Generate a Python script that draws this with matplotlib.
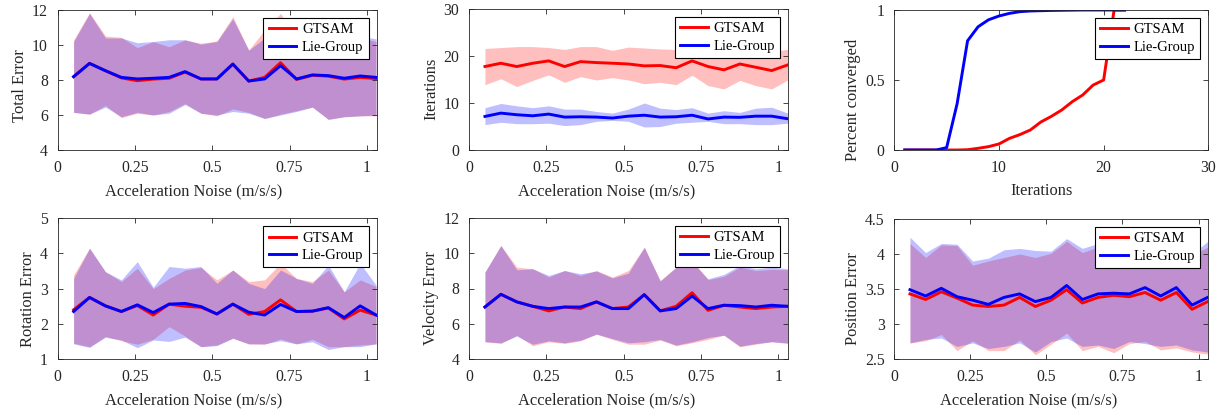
from __future__ import annotations

import matplotlib

matplotlib.use("Agg")
import matplotlib.pyplot as plt
from matplotlib.ticker import FuncFormatter

# acceleration noise levels (m/s/s)
noise = [0.0515, 0.103, 0.1545, 0.206, 0.2575, 0.309, 0.3605, 0.412, 0.4635, 0.515,
         0.5665, 0.618, 0.6695, 0.721, 0.7725, 0.824, 0.8755, 0.927, 0.9785, 1.03]

# total error
total_gtsam = [8.19, 8.95, 8.53, 8.12, 7.96, 8.05, 8.10, 8.45, 8.06, 8.06,
               8.91, 7.94, 8.15, 8.99, 8.03, 8.27, 8.22, 8.05, 8.15, 8.08]
total_gtsam_hi = [10.29, 11.85, 10.51, 10.44, 9.85, 10.19, 9.90, 10.29, 10.10, 10.23,
                  11.62, 9.71, 10.86, 11.81, 10.30, 10.45, 10.40, 10.50, 10.40, 10.20]
total_gtsam_lo = [6.15, 6.05, 6.55, 5.85, 6.10, 6.00, 6.20, 6.65, 6.10, 5.95,
                  6.35, 6.15, 5.80, 6.05, 6.25, 6.45, 5.75, 5.90, 5.95, 5.95]
total_lie = [8.19, 8.95, 8.53, 8.15, 8.06, 8.10, 8.15, 8.48, 8.06, 8.06,
             8.91, 7.94, 8.06, 8.82, 8.06, 8.29, 8.25, 8.10, 8.23, 8.15]
total_lie_hi = [10.20, 11.80, 10.40, 10.40, 10.13, 10.20, 10.30, 10.30, 10.05, 10.20,
                11.50, 9.70, 10.40, 11.60, 10.40, 10.60, 10.50, 10.60, 10.50, 10.35]
total_lie_lo = [6.15, 6.05, 6.45, 5.90, 6.15, 6.00, 6.10, 6.60, 6.10, 6.00,
                6.20, 6.10, 5.80, 6.00, 6.20, 6.45, 5.75, 5.90, 5.95, 6.00]

# iterations
iter_gtsam = [17.76, 18.46, 17.76, 18.46, 18.96, 17.76, 18.80, 18.60, 18.46, 18.30,
              17.90, 17.97, 17.50, 18.96, 17.76, 17.05, 18.30, 17.60, 16.90, 18.10]
iter_gtsam_hi = [21.6, 21.8, 22.0, 22.0, 21.8, 21.4, 22.0, 22.0, 21.2, 21.9,
                 21.7, 21.5, 21.4, 20.6, 21.5, 21.3, 21.0, 21.2, 21.0, 21.4]
iter_gtsam_lo = [13.9, 15.15, 13.5, 14.8, 16.0, 14.4, 15.6, 14.9, 15.4, 14.9,
                 14.1, 14.4, 13.9, 15.9, 13.7, 13.0, 14.8, 13.7, 13.0, 14.9]
iter_lie = [7.14, 7.85, 7.50, 7.28, 7.64, 7.00, 7.07, 7.00, 6.80, 7.20,
            7.40, 7.00, 7.07, 7.40, 6.60, 7.00, 6.95, 7.20, 7.20, 6.65]
iter_lie_hi = [9.0, 9.9, 9.4, 9.0, 9.4, 8.7, 8.7, 8.2, 7.85, 8.7,
               10.0, 8.9, 8.6, 9.0, 7.85, 8.35, 8.0, 8.9, 9.1, 7.85]
iter_lie_lo = [5.4, 5.9, 5.6, 5.6, 5.7, 5.2, 5.4, 6.1, 6.3, 6.1,
               4.9, 5.0, 5.7, 5.9, 6.1, 5.6, 5.6, 5.4, 5.4, 5.7]

# convergence
conv_iters = list(range(1, 23))
conv_gtsam = [0, 0, 0, 0, 0, 0, 0.002, 0.012, 0.024, 0.043, 0.083, 0.11, 0.143,
              0.2, 0.24, 0.286, 0.345, 0.393, 0.464, 0.5, 1.0, 1.0]
conv_lie = [0, 0, 0, 0, 0.017, 0.33, 0.78, 0.88, 0.93, 0.957, 0.976, 0.988, 0.993,
            0.995, 0.997, 0.998, 0.999, 1.0, 1.0, 1.0, 1.0, 1.0]

# rotation error
rot_gtsam = [2.40, 2.75, 2.51, 2.35, 2.52, 2.25, 2.56, 2.50, 2.47, 2.28,
             2.56, 2.27, 2.35, 2.68, 2.35, 2.36, 2.45, 2.14, 2.39, 2.25]
rot_gtsam_hi = [3.39, 4.15, 3.48, 3.20, 3.58, 3.00, 3.29, 3.53, 3.60, 3.25,
                3.53, 3.20, 3.25, 3.72, 3.29, 3.20, 3.53, 2.91, 3.25, 3.06]
rot_gtsam_lo = [1.45, 1.35, 1.64, 1.52, 1.42, 1.56, 1.92, 1.65, 1.35, 1.40,
                1.59, 1.43, 1.42, 1.57, 1.43, 1.56, 1.35, 1.35, 1.40, 1.43]
rot_lie = [2.35, 2.75, 2.51, 2.35, 2.54, 2.32, 2.56, 2.58, 2.49, 2.28,
           2.56, 2.33, 2.25, 2.55, 2.35, 2.36, 2.46, 2.18, 2.51, 2.25]
rot_lie_hi = [3.29, 4.15, 3.48, 3.25, 3.77, 3.04, 3.63, 3.58, 3.63, 3.15,
              3.53, 3.15, 3.00, 3.53, 3.29, 3.15, 3.67, 2.91, 3.72, 3.10]
rot_lie_lo = [1.43, 1.33, 1.62, 1.54, 1.32, 1.54, 1.50, 1.62, 1.35, 1.38,
              1.59, 1.43, 1.43, 1.52, 1.43, 1.49, 1.27, 1.35, 1.35, 1.43]

# velocity error
vel_gtsam = [6.95, 7.67, 7.24, 6.99, 6.73, 6.95, 6.86, 7.24, 6.86, 6.95,
             7.65, 6.73, 6.99, 7.76, 6.76, 7.05, 6.95, 6.86, 6.95, 6.99]
vel_gtsam_hi = [8.93, 10.44, 9.21, 9.12, 8.65, 9.02, 8.74, 9.02, 8.65, 9.02,
                10.34, 8.46, 9.21, 9.60, 8.50, 8.69, 9.21, 9.02, 9.08, 9.06]
vel_gtsam_lo = [4.98, 4.88, 5.35, 4.75, 4.98, 4.88, 5.03, 5.41, 5.11, 4.84,
                4.84, 5.07, 4.75, 4.92, 5.11, 5.35, 4.69, 4.84, 4.98, 4.92]
vel_lie = [6.95, 7.67, 7.24, 6.99, 6.86, 6.95, 6.95, 7.24, 6.86, 6.86,
           7.65, 6.73, 6.86, 7.57, 6.86, 7.05, 7.03, 6.95, 7.05, 6.99]
vel_lie_hi = [8.93, 10.44, 9.06, 9.12, 8.74, 9.02, 8.84, 8.99, 8.60, 8.87,
              10.34, 8.42, 9.21, 9.50, 8.55, 8.80, 9.31, 9.12, 9.21, 9.12]
vel_lie_lo = [4.98, 4.92, 5.30, 4.84, 5.03, 4.92, 5.07, 5.41, 5.16, 4.92,
              4.98, 5.11, 4.79, 4.98, 5.22, 5.35, 4.73, 4.88, 4.98, 4.88]

# position error
pos_gtsam = [3.43, 3.35, 3.46, 3.37, 3.27, 3.25, 3.27, 3.38, 3.25, 3.34,
             3.49, 3.30, 3.38, 3.41, 3.39, 3.45, 3.34, 3.45, 3.21, 3.32]
pos_gtsam_hi = [4.15, 3.95, 4.13, 4.12, 3.84, 3.90, 3.95, 4.00, 3.95, 4.01,
                4.18, 4.02, 4.10, 4.08, 4.05, 4.08, 4.02, 4.06, 3.98, 4.10]
pos_gtsam_lo = [2.73, 2.76, 2.85, 2.62, 2.76, 2.62, 2.62, 2.77, 2.56, 2.71,
                2.87, 2.62, 2.68, 2.59, 2.72, 2.75, 2.63, 2.66, 2.60, 2.57]
pos_lie = [3.49, 3.40, 3.51, 3.39, 3.34, 3.28, 3.38, 3.43, 3.32, 3.38,
           3.55, 3.35, 3.43, 3.44, 3.43, 3.52, 3.40, 3.52, 3.27, 3.38]
pos_lie_hi = [4.24, 4.02, 4.15, 4.14, 3.90, 3.94, 4.06, 4.08, 4.05, 4.04,
              4.22, 4.08, 4.15, 4.12, 4.10, 4.12, 4.05, 4.10, 4.00, 4.18]
pos_lie_lo = [2.73, 2.78, 2.80, 2.68, 2.73, 2.65, 2.68, 2.73, 2.60, 2.75,
              2.80, 2.68, 2.70, 2.65, 2.75, 2.72, 2.68, 2.70, 2.63, 2.60]

W, H = 1220, 412
INK = "#262626"
RED = "#ff0000"
BLUE = "#0000ff"
TICK_FS = 11.3
LABEL_FS = 11.9


def make_axes(fig, left, right, top, bottom):
    ax = fig.add_axes([left / W, 1 - bottom / H, (right - left) / W, (bottom - top) / H])
    for spine in ax.spines.values():
        spine.set_color(INK)
        spine.set_linewidth(0.6)
    ax.tick_params(direction="in", top=True, right=True, length=3.5, width=0.6,
                   colors=INK, labelsize=TICK_FS, pad=7)
    ax.xaxis.set_major_formatter(FuncFormatter(lambda v, _: f"{v:g}"))
    ax.yaxis.set_major_formatter(FuncFormatter(lambda v, _: f"{v:g}"))
    return ax


def set_labels(ax, xlabel, ylabel, xpos, ypos):
    # the original labels sit a little left of / below the axis centre
    ax.set_xlabel(xlabel, fontsize=LABEL_FS, color=INK, labelpad=5.5)
    ax.set_ylabel(ylabel, fontsize=LABEL_FS, color=INK, labelpad=3)
    ax.xaxis.label.set_x(xpos)
    ax.yaxis.label.set_y(ypos)


def add_legend(ax):
    leg = ax.legend(loc="upper right", fontsize=10.5, fancybox=False, framealpha=1,
                    edgecolor="black", borderaxespad=0.55, handlelength=1.9,
                    handletextpad=0.4, borderpad=0.35, labelspacing=0.3)
    leg.get_frame().set_linewidth(0.8)


def band_panel(ax, g, g_hi, g_lo, l, l_hi, l_lo, yticks):
    ax.fill_between(noise, g_lo, g_hi, color=RED, alpha=0.25, linewidth=0)
    ax.fill_between(noise, l_lo, l_hi, color=BLUE, alpha=0.25, linewidth=0)
    ax.plot(noise, g, color=RED, lw=2.1, label="GTSAM")
    ax.plot(noise, l, color=BLUE, lw=2.1, label="Lie-Group")
    ax.set_xlim(0, 1.032)
    ax.set_xticks([0, 0.25, 0.5, 0.75, 1])
    ax.set_ylim(yticks[0], yticks[-1])
    ax.set_yticks(yticks)
    add_legend(ax)


def main() -> None:
    plt.rcParams["font.family"] = ["Liberation Serif", "DejaVu Serif"]
    fig = plt.figure(figsize=(W / 100, H / 100), dpi=100)
    xlab = "Acceleration Noise (m/s/s)"

    ax = make_axes(fig, 57.7, 376.7, 10, 150)
    band_panel(ax, total_gtsam, total_gtsam_hi, total_gtsam_lo,
               total_lie, total_lie_hi, total_lie_lo, [4, 6, 8, 10, 12])
    set_labels(ax, xlab, "Total Error", 0.427, 0.459)

    ax = make_axes(fig, 469, 788.3, 9, 150)
    band_panel(ax, iter_gtsam, iter_gtsam_hi, iter_gtsam_lo,
               iter_lie, iter_lie_hi, iter_lie_lo, [0, 10, 20, 30])
    set_labels(ax, xlab, "Iterations", 0.431, 0.433)

    ax = make_axes(fig, 894.3, 1208.3, 10, 150)
    ax.plot(conv_iters, conv_gtsam, color=RED, lw=2.1, label="GTSAM")
    ax.plot(conv_iters, conv_lie, color=BLUE, lw=2.1, label="Lie-Group")
    ax.set_xlim(0, 30)
    ax.set_xticks([0, 10, 20, 30])
    ax.set_ylim(0, 1)
    ax.set_yticks([0, 0.5, 1])
    set_labels(ax, "Iterations", "Percent converged", 0.469, 0.357)
    add_legend(ax)

    ax = make_axes(fig, 57.7, 376.7, 218.3, 359)
    band_panel(ax, rot_gtsam, rot_gtsam_hi, rot_gtsam_lo,
               rot_lie, rot_lie_hi, rot_lie_lo, [1, 2, 3, 4, 5])
    set_labels(ax, xlab, "Rotation Error", 0.427, 0.426)

    ax = make_axes(fig, 469, 788.3, 218, 359)
    band_panel(ax, vel_gtsam, vel_gtsam_hi, vel_gtsam_lo,
               vel_lie, vel_lie_hi, vel_lie_lo, [4, 6, 8, 10, 12])
    set_labels(ax, xlab, "Velocity Error", 0.431, 0.436)

    ax = make_axes(fig, 894.3, 1208.3, 219, 359)
    band_panel(ax, pos_gtsam, pos_gtsam_hi, pos_gtsam_lo,
               pos_lie, pos_lie_hi, pos_lie_lo, [2.5, 3, 3.5, 4, 4.5])
    set_labels(ax, xlab, "Position Error", 0.429, 0.432)

    fig.savefig("out.png", dpi=100, facecolor="white")
    plt.close(fig)


if __name__ == "__main__":
    main()
